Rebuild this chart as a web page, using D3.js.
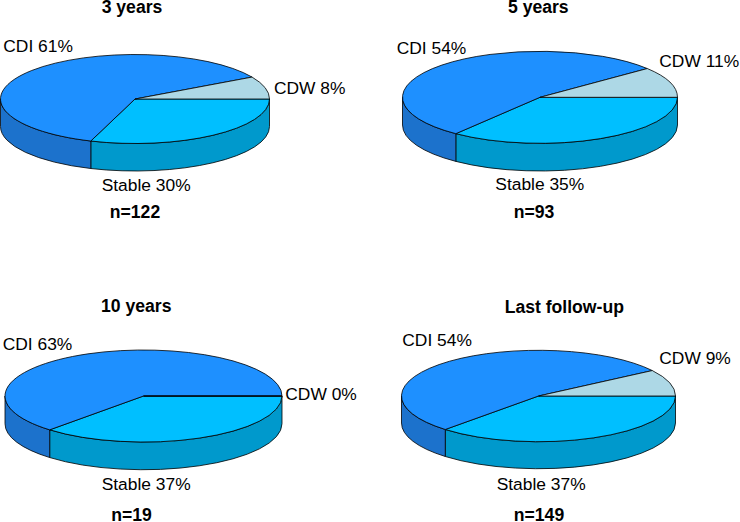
<!DOCTYPE html>
<html>
<head>
<meta charset="utf-8">
<script src="https://cdn.jsdelivr.net/npm/d3@7"></script>
<style>
html,body{margin:0;padding:0;background:#fff;}
svg{display:block;}
text{font-family:"Liberation Sans",Arial,sans-serif;fill:#000;}
</style>
</head>
<body>
<svg id="chart" width="740" height="522"></svg>
<script>
// Data
const categories = ["Stable", "CDI", "CDW"];
const panelTitles = ["3 years", "5 years", "10 years", "Last follow-up"];
const sampleSizes = [122, 93, 19, 149];
// Printed percentages
const stableLabels = [30, 35, 37, 37];
const cdiLabels = [61, 54, 63, 54];
const cdwLabels = [8, 11, 0, 9];
// Patient counts (they reproduce the printed percentages)
const stableCounts = [37, 33, 7, 55];
const cdiCounts = [75, 50, 12, 80];
const cdwCounts = [10, 10, 0, 14];

// Colours and layout (not data)
const topColors = d3.scaleOrdinal().domain(categories).range(["#00BFFF", "#1E90FF", "#ADD8E6"]);
const sideColors = d3.scaleOrdinal().domain(categories).range(["#0099CC", "#1C72CC", "#8AADB8"]);
const layout = [
  {cx:135, cy:99, rx:134.5, ry:44.5, depth:27.5,
   title:[132,12.7], n:[135,218.3], CDI:[3.3,51.7], CDW:[274,94.3], Stable:[101.7,191]},
  {cx:540, cy:97.3, rx:137.5, ry:46, depth:27.7,
   title:[538.3,12.7], n:[534,218], CDI:[396.7,54], CDW:[659.3,66.7], Stable:[495.3,190]},
  {cx:143.5, cy:396, rx:138.5, ry:46, depth:27.7,
   title:[136.3,311.7], n:[131.5,520.7], CDI:[2.7,350], CDW:[285.3,400], Stable:[101.7,490]},
  {cx:538.5, cy:396, rx:137, ry:45.7, depth:27,
   title:[564.3,312.7], n:[539,520.7], CDI:[402.3,345.7], CDW:[659.3,364], Stable:[496.7,490]}
];
const FONT = 17.4, BOLD_FONT = 17.6;

const svg = d3.select("#chart");
// Slices run clockwise from 3 o'clock (d3 angle pi/2)
const pie = d3.pie().sort(null).value(d => d.count)
  .startAngle(Math.PI / 2).endAngle(Math.PI / 2 + 2 * Math.PI);

panelTitles.forEach((title, i) => {
  const L = layout[i];
  const rows = categories.map((c, k) => ({
    category: c,
    count: [stableCounts, cdiCounts, cdwCounts][k][i],
    label: [stableLabels, cdiLabels, cdwLabels][k][i]
  }));
  const slices = pie(rows);
  const g = svg.append("g");
  const px = a => L.cx + L.rx * Math.sin(a);
  const py = a => L.cy - L.ry * Math.cos(a);

  // Side walls: the part of each slice on the front half of the ellipse
  const frontStart = Math.PI / 2, frontEnd = 3 * Math.PI / 2;
  const wall = s => {
    const a0 = Math.max(s.startAngle, frontStart), a1 = Math.min(s.endAngle, frontEnd);
    if (a1 <= a0) return null;
    return `M${px(a0)},${py(a0)}A${L.rx},${L.ry} 0 0 1 ${px(a1)},${py(a1)}` +
           `L${px(a1)},${py(a1) + L.depth}A${L.rx},${L.ry} 0 0 0 ${px(a0)},${py(a0) + L.depth}Z`;
  };
  g.selectAll("path.wall").data(slices.filter(s => wall(s))).join("path")
    .attr("class", "wall")
    .attr("d", wall)
    .attr("fill", s => sideColors(s.data.category))
    .attr("stroke", "#000").attr("stroke-width", 0.8).attr("stroke-linejoin", "round");

  // Top faces: circular arcs squashed into the ellipse
  const arc = d3.arc().innerRadius(0).outerRadius(L.rx);
  g.selectAll("path.top").data(slices).join("path")
    .attr("class", "top")
    .attr("d", arc)
    .attr("transform", `translate(${L.cx},${L.cy}) scale(1,${L.ry / L.rx})`)
    .attr("vector-effect", "non-scaling-stroke")
    .attr("fill", s => topColors(s.data.category))
    .attr("stroke", "#000").attr("stroke-width", 0.8).attr("stroke-linejoin", "round");

  // Labels
  g.selectAll("text.label").data(rows).join("text")
    .attr("class", "label")
    .attr("x", d => L[d.category][0]).attr("y", d => L[d.category][1])
    .attr("font-size", FONT)
    .text(d => `${d.category} ${d.label}%`);
  g.append("text").attr("x", L.title[0]).attr("y", L.title[1])
    .attr("text-anchor", "middle").attr("font-size", BOLD_FONT).attr("font-weight", "bold").text(title);
  g.append("text").attr("x", L.n[0]).attr("y", L.n[1])
    .attr("text-anchor", "middle").attr("font-size", BOLD_FONT).attr("font-weight", "bold").text("n=" + sampleSizes[i]);
});
</script>
</body>
</html>
